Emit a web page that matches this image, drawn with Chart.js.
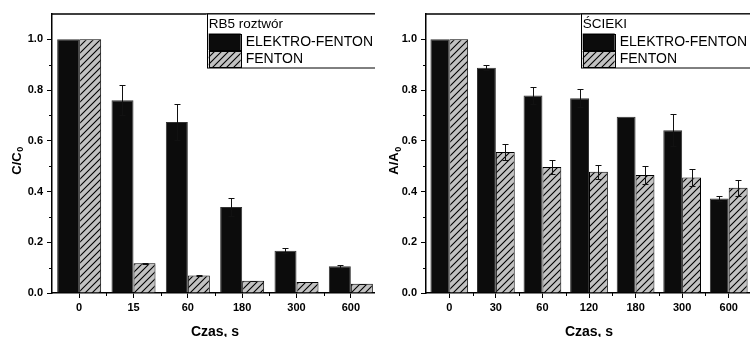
<!DOCTYPE html>
<html><head><meta charset="utf-8">
<script src="https://cdn.jsdelivr.net/npm/chart.js@4"></script>
<style>
html,body{margin:0;padding:0;background:#fff;width:750px;height:337px;overflow:hidden}
.panel{position:absolute;top:0;width:375px;height:337px;overflow:hidden;background:#fff}
#p1{left:0}
#p2{left:375px}
canvas{display:block}
</style></head><body>
<div class="panel" id="p1"><canvas id="c1" width="385" height="337"></canvas></div>
<div class="panel" id="p2"><canvas id="c2" width="385" height="337"></canvas></div>
<script>
// ---- data ----
const seriesNames = ['ELEKTRO-FENTON', 'FENTON'];
const xTitle = 'Czas, s';
const yTickValues = [0, 0.2, 0.4, 0.6, 0.8, 1.0];
const yMinorValues = [0.1, 0.3, 0.5, 0.7, 0.9];

const leftTitle = 'RB5 roztwór';
const leftYTitle = ['C/C', '0'];
const leftCategories = ['0', '15', '60', '180', '300', '600'];
const leftEF = [1.0, 0.760, 0.674, 0.339, 0.167, 0.105];
const leftEFErr = [0, 0.060, 0.072, 0.037, 0.011, 0.005];
const leftF = [1.0, 0.117, 0.069, 0.048, 0.043, 0.036];
const leftFErr = [0, 0.003, 0.002, 0.001, 0.001, 0.001];

const rightTitle = 'ŚCIEKI';
const rightYTitle = ['A/A', '0'];
const rightCategories = ['0', '30', '60', '120', '180', '300', '600'];
const rightEF = [1.0, 0.888, 0.779, 0.768, 0.695, 0.642, 0.373];
const rightEFErr = [0, 0.010, 0.032, 0.036, 0, 0.064, 0.010];
const rightF = [1.0, 0.556, 0.497, 0.478, 0.465, 0.455, 0.415];
const rightFErr = [0, 0.030, 0.027, 0.028, 0.035, 0.033, 0.031];

// ---- styling ----
const FONT = "'Liberation Sans', Arial, sans-serif";
Chart.defaults.font.family = FONT;
Chart.defaults.color = '#000';

function makeHatch() {
  const s = 7;
  const c = document.createElement('canvas');
  c.width = s; c.height = s;
  const g = c.getContext('2d');
  g.fillStyle = '#c2c2c2';
  g.fillRect(0, 0, s, s);
  g.strokeStyle = '#000';
  g.lineWidth = 1.1;
  g.beginPath();
  g.moveTo(0, s); g.lineTo(s, 0);
  g.moveTo(-1, 1); g.lineTo(1, -1);
  g.moveTo(s - 1, s + 1); g.lineTo(s + 1, s - 1);
  g.stroke();
  return c;
}
const hatchCanvas = makeHatch();

const decorPlugin = {
  id: 'decor',
  afterDatasetsDraw(chart, args, opts) {
    const ctx = chart.ctx;
    const y = chart.scales.y;
    ctx.save();
    ctx.strokeStyle = '#111';
    ctx.lineWidth = 1;
    chart.data.datasets.forEach((ds, di) => {
      const meta = chart.getDatasetMeta(di);
      meta.data.forEach((el, i) => {
        const e = ds.errors[i];
        if (!e) return;
        const v = ds.data[i];
        const yt = Math.round(y.getPixelForValue(v + e)) + 0.5;
        const yb = Math.round(y.getPixelForValue(v - e)) + 0.5;
        const x = Math.round(el.x) + 0.5;
        ctx.beginPath();
        ctx.moveTo(x, yt); ctx.lineTo(x, yb);
        ctx.moveTo(x - 3, yt); ctx.lineTo(x + 3, yt);
        ctx.moveTo(x - 3, yb); ctx.lineTo(x + 3, yb);
        ctx.stroke();
      });
    });
    ctx.restore();
  },
  afterDraw(chart, args, opts) {
    const ctx = chart.ctx;
    const a = chart.chartArea;
    const xs = chart.scales.x, ys = chart.scales.y;
    ctx.save();
    // frame top / right
    ctx.strokeStyle = '#000';
    ctx.lineWidth = 1.5;
    ctx.beginPath();
    ctx.moveTo(a.left, a.top); ctx.lineTo(a.right, a.top); ctx.lineTo(a.right, a.bottom);
    ctx.stroke();
    // minor ticks
    ctx.lineWidth = 1;
    ctx.beginPath();
    yMinorValues.forEach(v => {
      const py = Math.round(ys.getPixelForValue(v)) + 0.5;
      ctx.moveTo(a.left - 3, py); ctx.lineTo(a.left, py);
    });
    const n = chart.data.labels.length;
    for (let i = 0; i < n - 1; i++) {
      const px = Math.round((xs.getPixelForValue(i) + xs.getPixelForValue(i + 1)) / 2) + 0.5;
      ctx.moveTo(px, a.bottom); ctx.lineTo(px, a.bottom + 3);
    }
    ctx.stroke();

    // legend
    ctx.font = '14px ' + FONT;
    let tw = 0;
    chart.data.datasets.forEach(ds => { tw = Math.max(tw, ctx.measureText(ds.label).width); });
    const boxW = tw + 44;
    const bl = a.right - boxW, bt = a.top, bb = a.top + 54;
    ctx.fillStyle = '#fff';
    ctx.fillRect(bl, bt, boxW, bb - bt);
    ctx.strokeStyle = '#000';
    ctx.lineWidth = 1;
    ctx.strokeRect(Math.round(bl) + 0.5, bt, boxW, bb - bt);
    ctx.fillStyle = '#000';
    ctx.textBaseline = 'middle';
    ctx.textAlign = 'left';
    ctx.font = '13.5px ' + FONT;
    ctx.fillText(opts.legendTitle, bl + 2, bt + 10.5);
    ctx.font = '14px ' + FONT;
    chart.data.datasets.forEach((ds, di) => {
      const sy = bt + 19.5 + di * 17.5;
      const sx = bl + 2;
      ctx.fillStyle = ds.backgroundColor;
      ctx.fillRect(sx, sy, 32, 16.5);
      ctx.strokeStyle = '#000';
      ctx.strokeRect(Math.round(sx) + 0.5, Math.round(sy) + 0.5, 32, 16);
      ctx.fillStyle = '#000';
      ctx.fillText(ds.label, sx + 37, sy + 8.5);
    });

    // x title
    ctx.font = 'bold 14px ' + FONT;
    ctx.textAlign = 'center';
    ctx.textBaseline = 'alphabetic';
    ctx.fillText(opts.xTitle, (a.left + a.right) / 2, 335.5);

    // y title with subscript
    ctx.save();
    ctx.translate(opts.yTitleX, 161);
    ctx.rotate(-Math.PI / 2);
    ctx.font = 'bold 13px ' + FONT;
    const w1 = ctx.measureText(opts.yTitle[0]).width;
    ctx.font = 'bold 9px ' + FONT;
    const w2 = ctx.measureText(opts.yTitle[1]).width;
    const sx0 = -(w1 + w2) / 2;
    ctx.textAlign = 'left';
    ctx.font = 'bold 13px ' + FONT;
    ctx.fillText(opts.yTitle[0], sx0, 0);
    ctx.font = 'bold 9px ' + FONT;
    ctx.fillText(opts.yTitle[1], sx0 + w1 + 0.5, 2.5);
    ctx.restore();

    ctx.restore();
  }
};

function makeChart(id, cats, ef, efErr, f, fErr, legendTitle, yTitle, yAxisW, padRight, yTitleX) {
  const g = document.getElementById(id).getContext('2d');
  const pattern = g.createPattern(hatchCanvas, 'repeat');
  return new Chart(g, {
    type: 'bar',
    data: {
      labels: cats,
      datasets: [
        { label: seriesNames[0], data: ef, errors: efErr, backgroundColor: '#0c0c0c',
          borderColor: '#333', borderWidth: 1, barPercentage: 1, categoryPercentage: 0.81 },
        { label: seriesNames[1], data: f, errors: fErr, backgroundColor: pattern,
          borderColor: '#000', borderWidth: 1, barPercentage: 1, categoryPercentage: 0.81 }
      ]
    },
    options: {
      responsive: false,
      animation: false,
      devicePixelRatio: 1,
      layout: { padding: { top: 14, right: padRight, left: 0, bottom: 0 } },
      plugins: {
        legend: { display: false },
        tooltip: { enabled: false },
        decor: { legendTitle: legendTitle, xTitle: xTitle, yTitle: yTitle, yTitleX: yTitleX }
      },
      scales: {
        x: {
          type: 'category',
          offset: true,
          afterFit: s => { s.height = 44; },
          grid: { offset: false, drawOnChartArea: false, drawTicks: true, tickLength: 5, color: '#000', lineWidth: 1 },
          border: { display: true, color: '#000', width: 1.5 },
          ticks: { font: { size: 11, weight: 'bold' }, color: '#000', padding: 3, maxRotation: 0, autoSkip: false }
        },
        y: {
          min: 0, max: 1.1,
          afterBuildTicks: s => { s.ticks = yTickValues.map(v => ({ value: v })); },
          afterFit: s => { s.width = yAxisW; },
          grid: { drawOnChartArea: false, drawTicks: true, tickLength: 5, color: '#000', lineWidth: 1 },
          border: { display: true, color: '#000', width: 1.5 },
          ticks: { font: { size: 11, weight: 'bold' }, color: '#000', padding: 4,
                   callback: v => Number(v).toFixed(1) }
        }
      }
    },
    plugins: [decorPlugin]
  });
}

makeChart('c1', leftCategories, leftEF, leftEFErr, leftF, leftFErr, leftTitle, leftYTitle, 52, 7, 20.5);
makeChart('c2', rightCategories, rightEF, rightEFErr, rightF, rightFErr, rightTitle, rightYTitle, 51, 8, 23);
</script>
</body></html>
